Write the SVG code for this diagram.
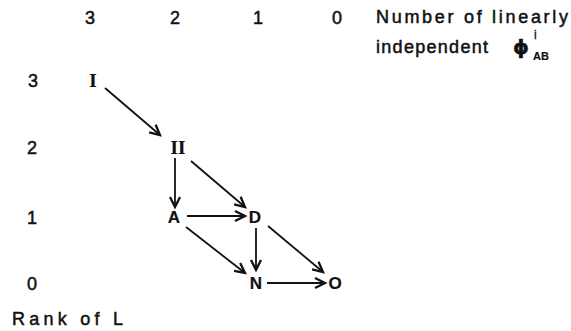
<svg xmlns="http://www.w3.org/2000/svg" width="571" height="331" viewBox="0 0 571 331">
<style>
text{font-family:"Liberation Sans",Arial,sans-serif;font-size:18px;fill:#111;stroke:#111;stroke-width:0.5;text-anchor:middle}
.rom{font-family:"Liberation Serif","Times New Roman",serif;font-size:19px;font-weight:bold;stroke-width:0.2}
.nd{font-weight:bold;font-size:17px;stroke-width:0.2}
.sm{font-size:11px;font-weight:bold;stroke-width:0.2;text-anchor:start}
.edge{stroke:#111;stroke-width:1.8;fill:none;marker-end:url(#ah)}
</style>
<defs>
<marker id="ah" markerUnits="userSpaceOnUse" markerWidth="14" markerHeight="14" refX="11" refY="6" orient="auto" viewBox="0 0 14 12">
<path d="M1,1 L11,6 L1,11" fill="none" stroke="#111" stroke-width="2.3" stroke-linejoin="miter"/>
</marker>
</defs>
<rect width="571" height="331" fill="#fff"/>
<g id="axis-labels">
<text x="90" y="23.5">3</text>
<text x="175" y="23.5">2</text>
<text x="258" y="23.5">1</text>
<text x="337" y="23.5">0</text>
<text x="376" y="23" style="text-anchor:start" textLength="192" lengthAdjust="spacing">Number of linearly</text>
<text x="376" y="53" style="text-anchor:start" textLength="112" lengthAdjust="spacing">independent</text>
<text x="521" y="54" style="font-size:20px;font-weight:bold;font-family:'DejaVu Sans',sans-serif">ϕ</text>
<text x="534" y="39" style="font-size:12px;stroke-width:0.3;text-anchor:start">i</text>
<text x="533" y="60" class="sm">AB</text>
<text x="33" y="87">3</text>
<text x="32" y="154">2</text>
<text x="32" y="224">1</text>
<text x="32" y="290">0</text>
<text x="12" y="325" style="text-anchor:start" textLength="111" lengthAdjust="spacing">Rank of L</text>
</g>
<g id="node-I"><text x="93" y="87" class="rom">I</text></g>
<g id="node-II"><text x="178" y="154" class="rom">II</text></g>
<g id="node-A"><text x="174" y="223" class="nd">A</text></g>
<g id="node-D"><text x="255" y="223" class="nd">D</text></g>
<g id="node-N"><text x="256" y="289" class="nd">N</text></g>
<g id="node-O"><text x="335" y="289" class="nd">O</text></g>
<g id="connectors">
<line class="edge" x1="105" y1="88" x2="160" y2="135"/>
<line class="edge" x1="175" y1="158" x2="175" y2="207"/>
<line class="edge" x1="191" y1="161" x2="245" y2="207"/>
<line class="edge" x1="187" y1="216" x2="245" y2="216"/>
<line class="edge" x1="186" y1="227" x2="245" y2="273"/>
<line class="edge" x1="256" y1="228" x2="256" y2="270"/>
<line class="edge" x1="268" y1="226" x2="323" y2="272"/>
<line class="edge" x1="267" y1="283" x2="325" y2="283"/>
</g>
</svg>
